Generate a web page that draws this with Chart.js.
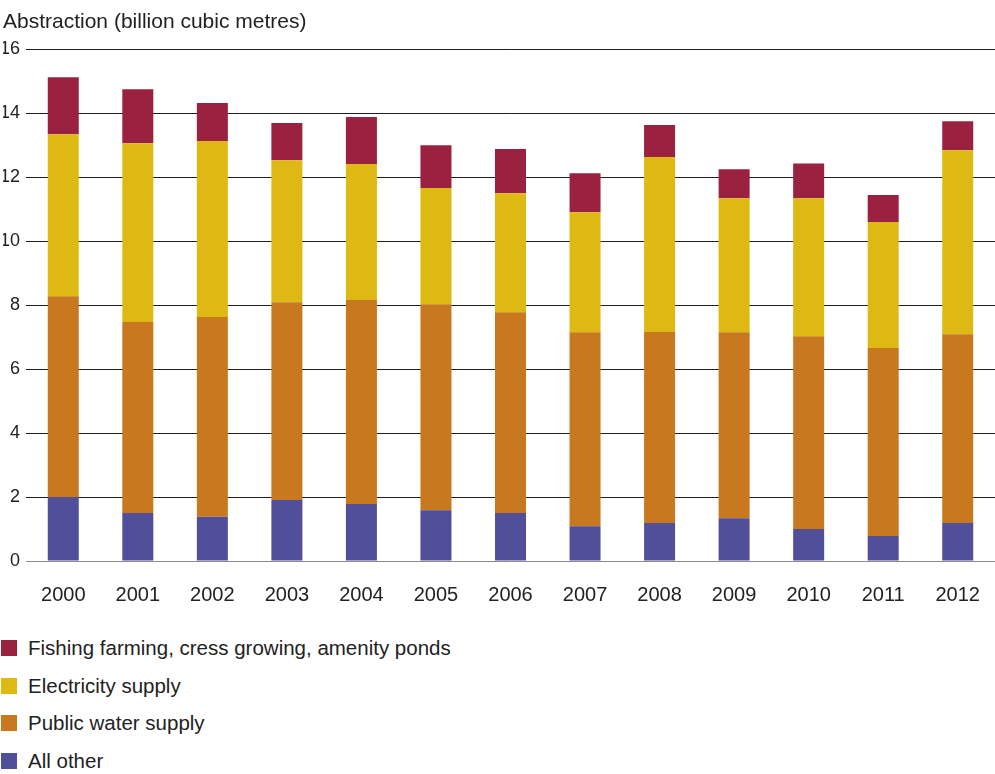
<!DOCTYPE html>
<html>
<head>
<meta charset="utf-8">
<script src="https://cdn.jsdelivr.net/npm/chart.js@4"></script>
<style>
  body { margin: 0; background: #fff; font-family: "Liberation Sans", Arial, sans-serif; overflow: hidden; }
  #wrap { position: relative; width: 995px; height: 621px; }
  #legend { position: absolute; left: 0; top: 629px; }
  .item { display: flex; align-items: center; height: 37.7px; }
  .swatch { width: 16px; height: 16px; margin-left: 1px; margin-right: 11px; }
  .item span { font-size: 20.5px; color: #222; }
</style>
</head>
<body>
<div id="wrap"><canvas id="chart"></canvas></div>
<div id="legend"></div>
<script>
const years = ['2000', '2001', '2002', '2003', '2004', '2005', '2006', '2007', '2008', '2009', '2010', '2011', '2012'];

// billion cubic metres per sector
const allOther    = [2.00, 1.50, 1.38, 1.91, 1.78, 1.59, 1.50, 1.09, 1.19, 1.34, 1.00, 0.78, 1.19];
const publicWater = [6.28, 5.97, 6.25, 6.18, 6.38, 6.44, 6.28, 6.06, 5.97, 5.81, 6.03, 5.88, 5.90];
const electricity = [5.06, 5.59, 5.50, 4.44, 4.25, 3.63, 3.72, 3.75, 5.47, 4.19, 4.31, 3.94, 5.75];
const fishing     = [1.78, 1.69, 1.19, 1.16, 1.47, 1.34, 1.38, 1.22, 1.00, 0.91, 1.09, 0.84, 0.91];

const yTicks = [0, 2, 4, 6, 8, 10, 12, 14, 16];

const font = { family: '"Liberation Sans", Arial, sans-serif', size: 20 };

const ctx = document.getElementById('chart').getContext('2d');
const chart = new Chart(ctx, {
    type: 'bar',
    data: {
        labels: years,
        datasets: [
            { label: 'All other', data: allOther, backgroundColor: '#524f9a' },
            { label: 'Public water supply', data: publicWater, backgroundColor: '#c8781f' },
            { label: 'Electricity supply', data: electricity, backgroundColor: '#dfb913' },
            { label: 'Fishing farming, cress growing, amenity ponds', data: fishing, backgroundColor: '#9b2140' }
        ]
    },
    options: {
        responsive: true,
        maintainAspectRatio: false,
        animation: false,
        layout: { padding: { left: 3, right: 0, top: 10 } },
        datasets: {
            bar: { categoryPercentage: 1, barPercentage: 0.416 }
        },
        plugins: {
            legend: { display: false },
            tooltip: { enabled: false },
            title: {
                display: true,
                text: 'Abstraction (billion cubic metres)',
                align: 'start',
                color: '#222',
                font: { ...font, size: 21, weight: 'normal' },
                padding: { top: 0, bottom: 14 }
            }
        },
        scales: {
            x: {
                stacked: true,
                grid: { display: false },
                border: { display: false },
                ticks: { color: '#222', font: font, padding: 14, maxRotation: 0 }
            },
            y: {
                stacked: true,
                min: 0,
                max: 16,
                afterBuildTicks: (scale) => { scale.ticks = yTicks.map(v => ({ value: v })); },
                afterFit: (scale) => { scale.width = 23; },
                border: { display: false },
                grid: {
                    drawTicks: false,
                    color: (c) => c.tick && c.tick.value === 0 ? '#8a8a8a' : '#1e1e1e',
                    lineWidth: 1
                },
                ticks: { color: '#222', font: { ...font, size: 18 }, padding: 6 }
            }
        }
    }
});

// legend, top entry is the top of the stack
const legend = document.getElementById('legend');
chart.data.datasets.slice().reverse().forEach(ds => {
    const row = document.createElement('div');
    row.className = 'item';
    const box = document.createElement('div');
    box.className = 'swatch';
    box.style.background = ds.backgroundColor;
    const txt = document.createElement('span');
    txt.textContent = ds.label;
    row.appendChild(box);
    row.appendChild(txt);
    legend.appendChild(row);
});
</script>
</body>
</html>
